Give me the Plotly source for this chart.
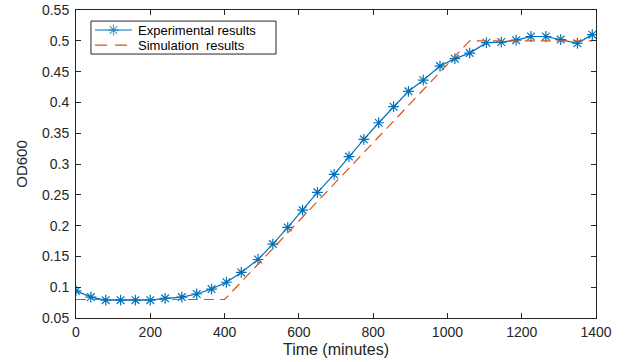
import plotly.graph_objects as go

exp_time = [0, 40, 80, 120, 160, 200, 240, 285, 325, 365, 405, 445, 490, 530,
            570, 610, 650, 695, 735, 775, 815, 855, 895, 935, 980, 1020, 1060,
            1105, 1145, 1185, 1225, 1265, 1305, 1350, 1390]
exp_od = [0.094, 0.084, 0.079, 0.079, 0.079, 0.079, 0.082, 0.084, 0.089, 0.097,
          0.108, 0.124, 0.145, 0.170, 0.197, 0.225, 0.254, 0.283, 0.312, 0.340,
          0.367, 0.393, 0.418, 0.436, 0.459, 0.471, 0.480, 0.497, 0.498, 0.501,
          0.507, 0.507, 0.502, 0.496, 0.510]

# Simulation (piecewise linear)
sim_time = [0, 400, 1060, 1390]
sim_od = [0.08, 0.08, 0.50, 0.50]

x_ticks = [0, 200, 400, 600, 800, 1000, 1200, 1400]
y_ticks = [0.05, 0.1, 0.15, 0.2, 0.25, 0.3, 0.35, 0.4, 0.45, 0.5, 0.55]
y_labels = ["0.05", "0.1", "0.15", "0.2", "0.25", "0.3", "0.35", "0.4", "0.45", "0.5", "0.55"]

series_names = ["Experimental results", "Simulation  results"]

blue = "#0072BD"
orange = "#D95319"
axcol = "#262626"
font = "Liberation Sans, Arial, sans-serif"
dash_style = "10px,6px"

fig = go.Figure()
fig.add_trace(go.Scatter(
    x=exp_time, y=exp_od, mode="lines+markers", name=series_names[0],
    line=dict(color=blue, width=1.2),
    marker=dict(symbol="asterisk-open", size=9, color=blue, line=dict(color=blue, width=1.2)),
    showlegend=False,
))
fig.add_trace(go.Scatter(
    x=sim_time, y=sim_od, mode="lines", name=series_names[1],
    line=dict(color=orange, width=1.2, dash=dash_style),
    showlegend=False,
))

# ---- hand-drawn compact legend (MATLAB style), drawn in an overlay unit axis ----
box_x0, box_x1, box_y0, box_y1 = 0.0288, 0.3846, 0.857, 0.964
key_x0, key_x1 = 0.0365, 0.1077
row_y = [0.935, 0.886]
text_x = 0.1154

fig.add_trace(go.Scatter(
    x=[key_x0, (key_x0 + key_x1) / 2, key_x1], y=[row_y[0]] * 3,
    mode="lines+markers", xaxis="x2", yaxis="y2", hoverinfo="skip", showlegend=False,
    line=dict(color=blue, width=1.2),
    marker=dict(symbol="asterisk-open", size=[0, 9, 0], color=blue, line=dict(color=blue, width=1.2)),
))
fig.add_trace(go.Scatter(
    x=[key_x0, key_x1], y=[row_y[1]] * 2,
    mode="lines", xaxis="x2", yaxis="y2", hoverinfo="skip", showlegend=False,
    line=dict(color=orange, width=1.2, dash="12px,8px"),
))
fig.add_shape(type="rect", xref="paper", yref="paper",
              x0=box_x0, x1=box_x1, y0=box_y0, y1=box_y1,
              line=dict(color=axcol, width=1), fillcolor="rgba(0,0,0,0)", layer="above")
for name, ry in zip(series_names, row_y):
    fig.add_annotation(x=text_x, y=ry, xref="paper", yref="paper", text=name.replace(" ", "&nbsp;"),
                       showarrow=False, xanchor="left", yanchor="middle",
                       font=dict(family=font, size=13, color="#000"))

axis_common = dict(
    showgrid=False, zeroline=False, showline=True, linecolor=axcol, linewidth=1,
    mirror="allticks", ticks="inside", ticklen=5, tickcolor=axcol,
    tickfont=dict(family=font, size=14, color=axcol),
)

fig.update_layout(
    width=626, height=362,
    margin=dict(l=76, r=30, t=10, b=44, autoexpand=False),
    paper_bgcolor="white", plot_bgcolor="white",
    font=dict(family=font, size=13, color=axcol),
    xaxis=dict(range=[0, 1400], tickvals=x_ticks, ticklabelstandoff=1,
               title=dict(text="Time (minutes)", font=dict(size=16, color=axcol), standoff=5),
               **axis_common),
    yaxis=dict(range=[0.05, 0.55], tickvals=y_ticks, ticktext=y_labels, ticklabelstandoff=3,
               title=dict(text="OD600", font=dict(size=15, color=axcol), standoff=10),
               **axis_common),
    xaxis2=dict(overlaying="x", range=[0, 1], visible=False, fixedrange=True),
    yaxis2=dict(overlaying="y", range=[0, 1], visible=False, fixedrange=True),
    showlegend=False,
)

fig.write_html("out.html", config={"displayModeBar": False},
               post_script="document.body.style.margin='0';")
